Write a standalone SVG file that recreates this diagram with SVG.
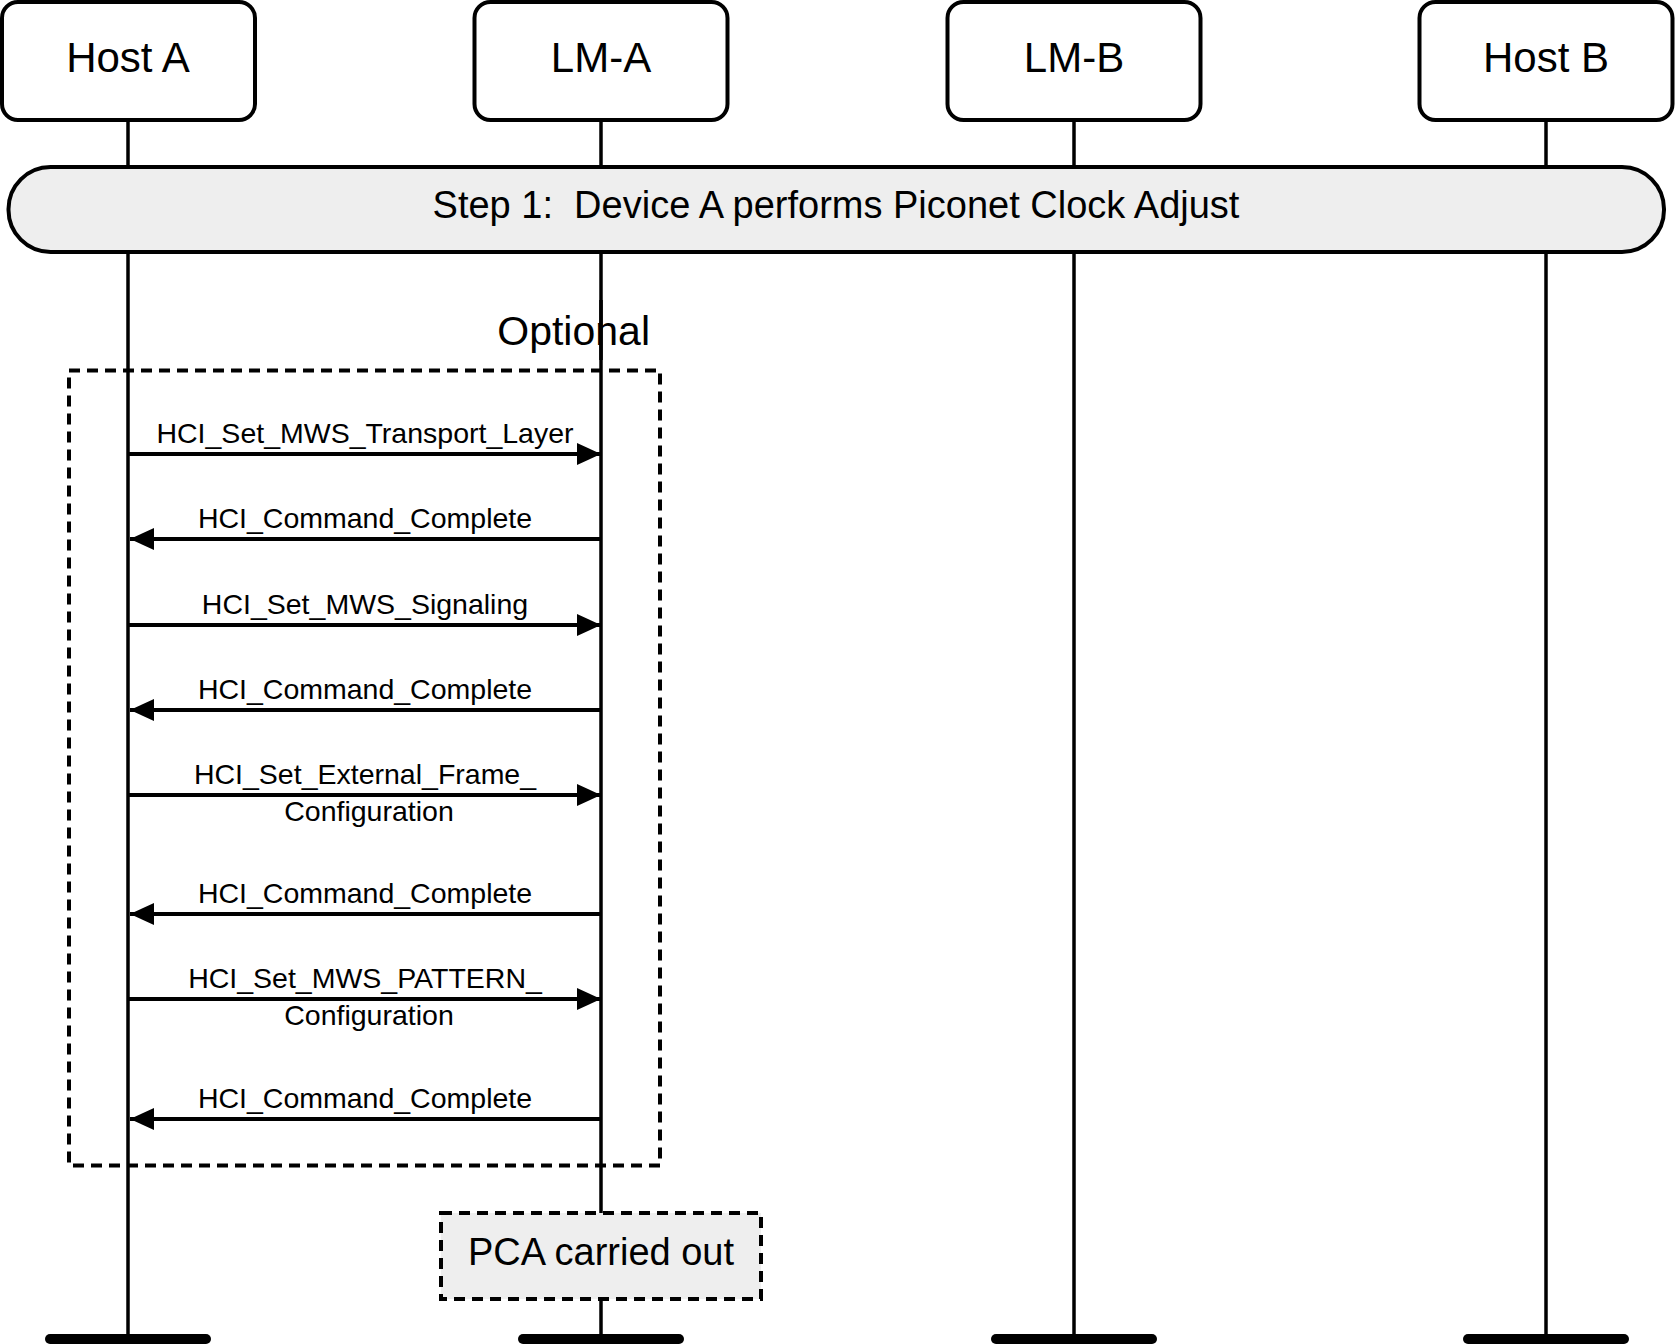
<svg xmlns="http://www.w3.org/2000/svg" width="1675" height="1344" viewBox="0 0 1675 1344">
<style>
.box{fill:#fff;stroke:#000;stroke-width:4}
.bar{fill:#eeeeee;stroke:#000;stroke-width:4}
.life{stroke:#000;stroke-width:3.5;fill:none}
.end{stroke:#000;stroke-width:10;stroke-linecap:round}
.msg{stroke:#000;stroke-width:4;fill:none}
.dash{fill:none;stroke:#000;stroke-width:4;stroke-dasharray:11 7}
.t{font-family:"Liberation Sans",Arial,sans-serif;fill:#000;text-anchor:middle}
.big{font-size:42px}
.step{font-size:38px}
.lab{font-size:28.5px}
</style>
<defs>
<marker id="ah" viewBox="0 0 24 22" refX="24" refY="11" markerWidth="24" markerHeight="22" markerUnits="userSpaceOnUse" orient="auto">
<path d="M0,0 L24,11 L0,22 z" fill="#000"/>
</marker>
</defs>
<g id="lifelines">
<line class="life" x1="128" y1="120" x2="128" y2="1339"/>
<line class="life" x1="601" y1="120" x2="601" y2="1339"/>
<line class="life" x1="1074" y1="120" x2="1074" y2="1339"/>
<line class="life" x1="1546" y1="120" x2="1546" y2="1339"/>
<line class="end" x1="50" y1="1339" x2="206" y2="1339"/>
<line class="end" x1="523" y1="1339" x2="679" y2="1339"/>
<line class="end" x1="996" y1="1339" x2="1152" y2="1339"/>
<line class="end" x1="1468" y1="1339" x2="1624" y2="1339"/>
</g>
<g id="hostA"><rect class="box" x="2" y="2" width="253" height="118" rx="16"/><text class="t big" x="128" y="72">Host A</text></g>
<g id="lmA"><rect class="box" x="474.5" y="2" width="253" height="118" rx="16"/><text class="t big" x="601" y="72">LM-A</text></g>
<g id="lmB"><rect class="box" x="947.5" y="2" width="253" height="118" rx="16"/><text class="t big" x="1074" y="72">LM-B</text></g>
<g id="hostB"><rect class="box" x="1419.5" y="2" width="253" height="118" rx="16"/><text class="t big" x="1546" y="72">Host B</text></g>
<g id="step1"><rect class="bar" x="8.5" y="167" width="1655.5" height="85" rx="42"/><text class="t step" x="836" y="218" xml:space="preserve">Step 1:  Device A performs Piconet Clock Adjust</text></g>
<g id="optional">
<text class="t big" x="650" y="345" style="text-anchor:end;font-size:41px">Optional</text>
<rect class="dash" x="69" y="370.5" width="591" height="795"/>
</g>
<line class="life" x1="601" y1="300" x2="601" y2="360"/>
<g id="connectors">
<line class="msg" x1="128" y1="454" x2="601" y2="454" marker-end="url(#ah)"/>
<text class="t lab" x="365" y="443">HCI_Set_MWS_Transport_Layer</text>
<line class="msg" x1="601" y1="539" x2="130" y2="539" marker-end="url(#ah)"/>
<text class="t lab" x="365" y="528">HCI_Command_Complete</text>
<line class="msg" x1="128" y1="625" x2="601" y2="625" marker-end="url(#ah)"/>
<text class="t lab" x="365" y="614">HCI_Set_MWS_Signaling</text>
<line class="msg" x1="601" y1="710" x2="130" y2="710" marker-end="url(#ah)"/>
<text class="t lab" x="365" y="699">HCI_Command_Complete</text>
<line class="msg" x1="128" y1="795" x2="601" y2="795" marker-end="url(#ah)"/>
<text class="t lab" x="365" y="784">HCI_Set_External_Frame_</text>
<text class="t lab" x="369" y="821">Configuration</text>
<line class="msg" x1="601" y1="914" x2="130" y2="914" marker-end="url(#ah)"/>
<text class="t lab" x="365" y="903">HCI_Command_Complete</text>
<line class="msg" x1="128" y1="999" x2="601" y2="999" marker-end="url(#ah)"/>
<text class="t lab" x="365" y="988">HCI_Set_MWS_PATTERN_</text>
<text class="t lab" x="369" y="1025">Configuration</text>
<line class="msg" x1="601" y1="1119" x2="130" y2="1119" marker-end="url(#ah)"/>
<text class="t lab" x="365" y="1108">HCI_Command_Complete</text>
</g>
<g id="pca"><rect class="bar" x="441" y="1213" width="320" height="86" style="stroke-dasharray:11 7"/><text class="t" x="601" y="1265" style="font-size:38px">PCA carried out</text></g>
</svg>
